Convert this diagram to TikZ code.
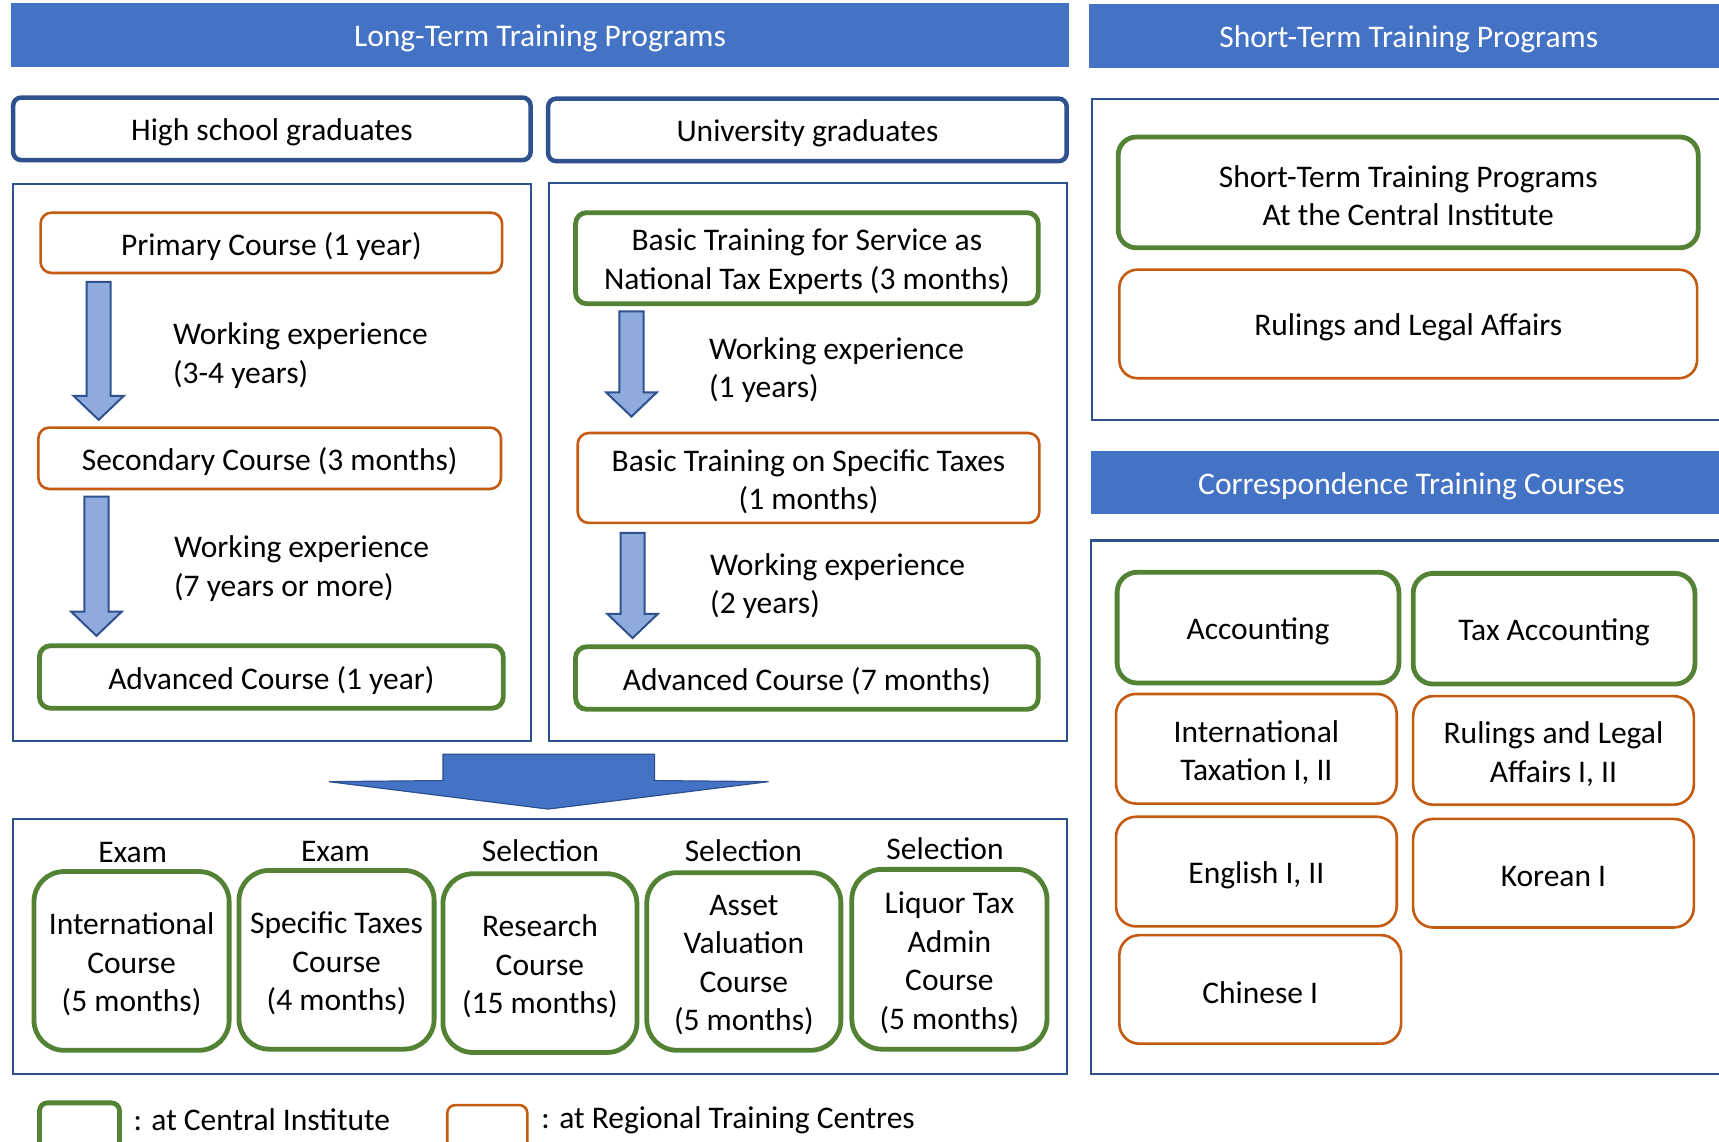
\documentclass[tikz,border=0pt]{standalone}
\usepackage{fontspec}
\setmainfont{Carlito}
\definecolor{bannerblue}{HTML}{4472C4}
\definecolor{dkblue}{HTML}{2F528F}
\definecolor{ltblue}{HTML}{8FAADC}
\definecolor{grn}{HTML}{548235}
\definecolor{org}{HTML}{C55A11}
\newcommand\bx[7]{%
  \node[#6, minimum width={(#4-#2)*1.0963pt}, minimum height={(#5-#3)*1.0963pt}] (#1) at ({(#2+#4)/2},{(#3+#5)/2}) {};
  \node[#6, draw=none, fill=none] (#1-t) at ($(#1.center)+(0,3.2)$) {#7};}
\newcommand\darr[4]{% name, x, top, tip
  \coordinate (#1) at (#2,#3);
  \draw[warrow] ($(#1)+(-11,0)$) -- ($(#1)+(11,0)$) -- (#2+11,#4-22) -- (#2+23,#4-22) -- (#2,#4) -- (#2-23,#4-22) -- (#2-11,#4-22) -- cycle;}
\usetikzlibrary{calc}
\begin{document}
\begin{tikzpicture}[x=1.0963pt,y=-1.0963pt,
  every node/.style={font=\fontsize{31.5}{38.4}\selectfont, inner sep=2pt, outer sep=0pt, align=center},
  banner/.style={fill=bannerblue, text=white},
  hsbox/.style={draw=dkblue, line width=4.5pt, rounded corners=8pt, fill=white},
  outerbox/.style={draw=dkblue, line width=2.2pt},
  gbox/.style={draw=grn, line width=4.8pt, rounded corners=11pt},
  obox/.style={draw=org, line width=2.6pt, rounded corners=11pt},
  gcourse/.style={gbox, rounded corners=30pt},
  gcorr/.style={gbox, rounded corners=20pt},
  ocorr/.style={obox, rounded corners=20pt},
  wetext/.style={anchor=west, align=left},
  warrow/.style={draw=dkblue, fill=ltblue, line width=2pt, line join=miter},
  bigarrow/.style={draw=dkblue, fill=bannerblue, line width=1.2pt}
]
\clip (0,0) rectangle (1568,1041);
\fill[white] (0,0) rectangle (1568,1041);
% banners
\bx{lt}{10}{3}{975}{61}{banner}{Long-Term Training Programs}
\bx{st}{993}{4}{1577}{62}{banner}{Short-Term Training Programs}
\bx{ct}{995}{411}{1580}{469}{banner}{Correspondence Training Courses}
% graduates
\bx{hs}{12}{89}{484}{146}{hsbox}{High school graduates}
\bx{ug}{500}{90}{973}{147}{hsbox}{University graduates}
% outer boxes
\bx{lo}{12}{168}{484}{676}{outerbox}{}
\bx{ro}{501}{167}{973}{676}{outerbox}{}
% left column
\bx{prim}{37}{194}{458}{249}{obox}{Primary Course (1 year)}
\bx{sec}{35}{390}{457}{446}{obox}{Secondary Course (3 months)}
\bx{adva}{36}{589}{459}{646}{gbox}{Advanced Course (1 year)}
\node[wetext] (we1) at (156,324.5) {Working experience\\(3-4 years)};
\node[wetext] (we2) at (157,518.5) {Working experience\\(7 years or more)};
\darr{a1}{90}{257}{383}
\darr{a2}{88}{453}{580}
% right column
\bx{bt}{525}{194}{947}{277}{gbox}{Basic Training for Service as\\National Tax Experts (3 months)}
\bx{bst}{527}{395}{948}{477}{obox}{Basic Training on Specific Taxes\\(1 months)}
\bx{advb}{525}{590}{947}{647}{gbox}{Advanced Course (7 months)}
\node[wetext] (we3) at (645,337.5) {Working experience\\(1 years)};
\node[wetext] (we4) at (646,534.5) {Working experience\\(2 years)};
\darr{a3}{576}{284}{380}
\darr{a4}{577}{486}{582}
% big arrow
\draw[bigarrow] (404,688) -- (597,688) -- (597,712) -- (701,713) -- (500,738) -- (300,713) -- (404,712) -- cycle;
% bottom box
\bx{bot}{12}{747}{973}{980}{outerbox}{}
\bx{c1}{31}{795}{209}{958}{gcourse}{International\\Course\\(5 months)}
\bx{c2}{218}{794}{396}{957}{gcourse}{Specific Taxes\\Course\\(4 months)}
\bx{c3}{404}{797}{581}{960}{gcourse}{Research\\Course\\(15 months)}
\bx{c4}{590}{796}{767}{958}{gcourse}{Asset\\Valuation\\Course\\(5 months)}
\bx{c5}{777}{793}{955}{957}{gcourse}{Liquor Tax\\Admin\\Course\\(5 months)}
\node (l1) at (121,778) {Exam};
\node (l2) at (306,777) {Exam};
\node (l3) at (493,776) {Selection};
\node (l4) at (678,776) {Selection};
\node (l5) at (862,774) {Selection};
% legend
\bx{lg}{36}{1006}{109}{1056}{gbox, rounded corners=8pt}{}
\node[anchor=west] (lgt) at (120,1021) {: at Central Institute};
\bx{lor}{408}{1008}{481}{1056}{obox, rounded corners=8pt}{}
\node[anchor=west] (lort) at (492,1022) {: at Regional Training Centres};
% short-term
\bx{sto}{996}{90}{1620}{383}{outerbox}{}
\bx{stc}{1020}{125}{1549}{226}{gbox, rounded corners=18pt}{Short-Term Training Programs\\At the Central Institute}
\bx{slr}{1021}{246}{1548}{345}{obox, rounded corners=18pt}{Rulings and Legal Affairs}
% correspondence
\bx{cto}{995}{493}{1620}{980}{outerbox}{}
\bx{acc}{1019}{522}{1276}{623}{gcorr}{Accounting}
\bx{tax}{1289}{523}{1546}{624}{gcorr}{Tax Accounting}
\bx{intl}{1018}{633}{1274}{733}{ocorr}{International\\Taxation I, II}
\bx{rla}{1289}{635}{1545}{734}{ocorr}{Rulings and Legal\\Affairs I, II}
\bx{eng}{1018}{745}{1274}{845}{ocorr}{English I, II}
\bx{kor}{1289}{747}{1545}{846}{ocorr}{Korean I}
\bx{chi}{1021}{853}{1278}{952}{ocorr}{Chinese I}
\end{tikzpicture}
\end{document}
